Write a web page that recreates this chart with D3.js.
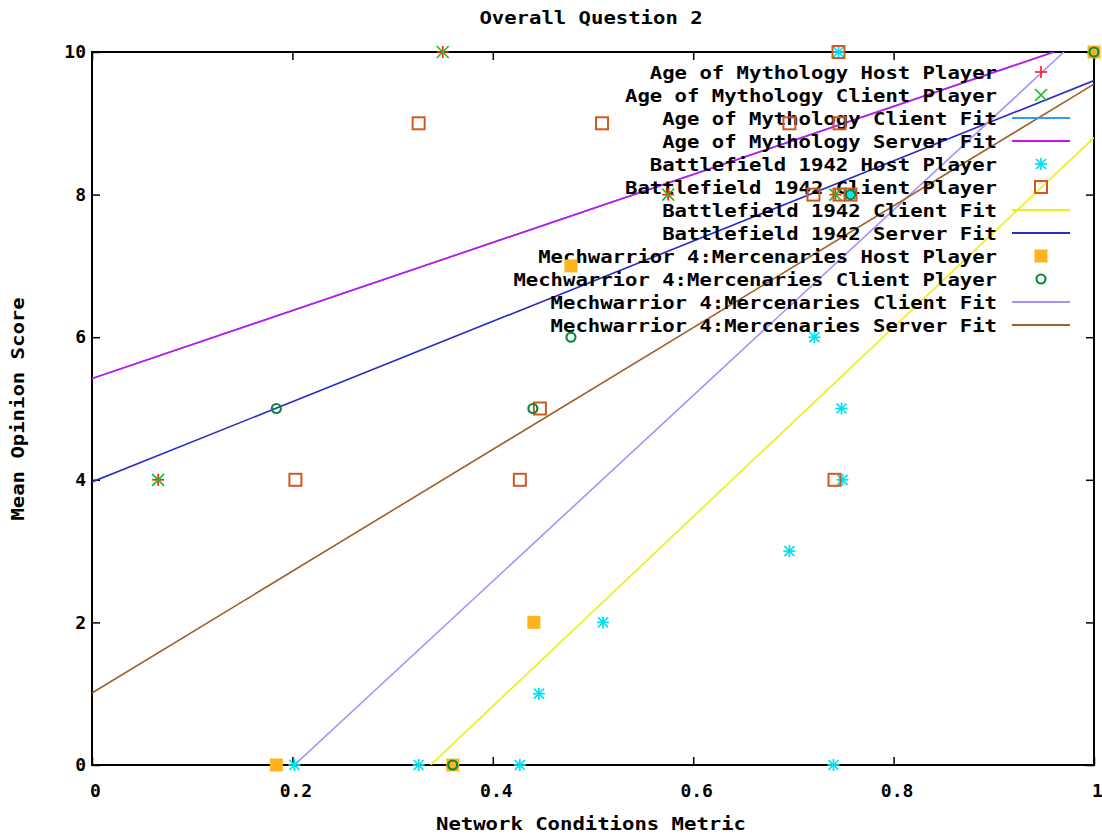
<!DOCTYPE html>
<html><head><meta charset="utf-8">
<script src="https://cdn.jsdelivr.net/npm/d3@7"></script>
<style>
body{margin:0;background:#fff;}
text{font-family:"DejaVu Sans Mono",monospace;font-weight:bold;font-size:18px;fill:#000;}
</style></head>
<body>
<svg id="chart" width="1102" height="836"></svg>
<script>
// ---- data ----
const chartTitle = "Overall Question 2";
const xAxisLabel = "Network Conditions Metric";
const yAxisLabel = "Mean Opinion Score";
const xTickValues = [0, 0.2, 0.4, 0.6, 0.8, 1];
const xTickLabels = ["0", "0.2", "0.4", "0.6", "0.8", "1"];
const yTickValues = [0, 2, 4, 6, 8, 10];
const yTickLabels = ["0", "2", "4", "6", "8", "10"];

const seriesNames = [
  "Age of Mythology Host Player",
  "Age of Mythology Client Player",
  "Age of Mythology Client Fit",
  "Age of Mythology Server Fit",
  "Battlefield 1942 Host Player",
  "Battlefield 1942 Client Player",
  "Battlefield 1942 Client Fit",
  "Battlefield 1942 Server Fit",
  "Mechwarrior 4:Mercenaries Host Player",
  "Mechwarrior 4:Mercenaries Client Player",
  "Mechwarrior 4:Mercenaries Client Fit",
  "Mechwarrior 4:Mercenaries Server Fit"
];

const aomHostX = [0.066, 0.35, 0.575, 0.742];
const aomHostY = [4, 10, 8, 8];
const aomClientX = [0.066, 0.35, 0.575, 0.742];
const aomClientY = [4, 10, 8, 8];
const aomClientFitX = [0, 0.96];
const aomClientFitY = [5.42, 10];
const aomServerFitX = [0, 0.96];
const aomServerFitY = [5.42, 10];
const bfHostX = [0.202, 0.326, 0.427, 0.446, 0.51, 0.696, 0.721, 0.748, 0.749, 0.74, 0.745, 0.757];
const bfHostY = [0, 0, 0, 1, 2, 3, 6, 5, 4, 0, 10, 8];
const bfClientX = [0.326, 0.509, 0.696, 0.746, 0.745, 0.72, 0.746, 0.757, 0.447, 0.203, 0.427, 0.741];
const bfClientY = [9, 9, 9, 9, 10, 8, 8, 8, 5, 4, 4, 4];
const bfClientFitX = [0.338, 1];
const bfClientFitY = [0, 8.8];
const bfServerFitX = [0, 1];
const bfServerFitY = [3.97, 9.6];
const mwHostX = [0.184, 0.36, 0.441, 0.478, 1];
const mwHostY = [0, 0, 2, 7, 10];
const mwClientX = [0.184, 0.44, 0.478, 0.36, 0.757, 1];
const mwClientY = [5, 5, 6, 0, 8, 10];
const mwClientFitX = [0.202, 0.97];
const mwClientFitY = [0, 10];
const mwServerFitX = [0, 1];
const mwServerFitY = [1.01, 9.55];

const seriesColors = ["#ff2020", "#20c020", "#3399ff", "#cc11ee", "#00e0ee", "#d05a1e",
                      "#eeee10", "#2a2ac4", "#ffb41e", "#0a8a3c", "#a890ff", "#a0602a"];
const seriesKinds = ["plus", "cross", "line", "line", "star", "square",
                     "line", "line", "fsquare", "circle", "line", "line"];

// ---- build ----
const xsList = [aomHostX, aomClientX, aomClientFitX, aomServerFitX, bfHostX, bfClientX,
                bfClientFitX, bfServerFitX, mwHostX, mwClientX, mwClientFitX, mwServerFitX];
const ysList = [aomHostY, aomClientY, aomClientFitY, aomServerFitY, bfHostY, bfClientY,
                bfClientFitY, bfServerFitY, mwHostY, mwClientY, mwClientFitY, mwServerFitY];
const series = seriesNames.map((name, i) => ({
  name, color: seriesColors[i], kind: seriesKinds[i],
  pts: xsList[i].map((x, j) => [x, ysList[i][j]])
}));

const svg = d3.select("#chart");
const L = 92, R = 1094, T = 52, B = 765;
const x = d3.scaleLinear().domain([0, 1]).range([L, R]);
const y = d3.scaleLinear().domain([0, 10]).range([B, T]);

svg.append("defs").append("clipPath").attr("id", "clip")
  .append("rect").attr("x", L).attr("y", T).attr("width", R - L).attr("height", B - T);

// axes
const fmtX = d => xTickLabels[xTickValues.indexOf(d)];
const fmtY = d => yTickLabels[yTickValues.indexOf(d)];
const axB = svg.append("g").attr("transform", `translate(0,${B})`)
  .call(d3.axisBottom(x).tickValues(xTickValues).tickFormat(fmtX).tickSizeInner(-8).tickSizeOuter(0).tickPadding(19));
const axT = svg.append("g").attr("transform", `translate(0,${T})`)
  .call(d3.axisTop(x).tickValues(xTickValues).tickFormat("").tickSizeInner(-8).tickSizeOuter(0));
const axLft = svg.append("g").attr("transform", `translate(${L},0)`)
  .call(d3.axisLeft(y).tickValues(yTickValues).tickFormat(fmtY).tickSizeInner(-8).tickSizeOuter(0).tickPadding(6));
const axRt = svg.append("g").attr("transform", `translate(${R},0)`)
  .call(d3.axisRight(y).tickValues(yTickValues).tickFormat("").tickSizeInner(-8).tickSizeOuter(0));
[axB, axT, axLft, axRt].forEach(a => {
  a.select(".domain").remove();
  a.selectAll(".tick line").attr("stroke", "#000").attr("stroke-width", 1.5);
  a.selectAll("text").attr("font-family", null).attr("font-size", null).style("font-weight", "bold");
});
axB.selectAll("text").attr("dy", "0.71em").attr("dx", 3);

svg.append("rect").attr("x", L).attr("y", T).attr("width", R - L).attr("height", B - T)
  .attr("fill", "none").attr("stroke", "#000").attr("stroke-width", 2);

// titles
function fitText(sel, str) {
  sel.text(str).attr("textLength", str.length * 12.4).attr("lengthAdjust", "spacingAndGlyphs");
}
fitText(svg.append("text").attr("x", 591).attr("y", 24).attr("text-anchor", "middle"), chartTitle);
fitText(svg.append("text").attr("x", 591).attr("y", 830).attr("text-anchor", "middle"), xAxisLabel);
fitText(svg.append("text").attr("transform", "translate(24,409) rotate(-90)").attr("text-anchor", "middle"), yAxisLabel);

// markers
function marker(g, kind, color, cx, cy) {
  if (kind === "plus" || kind === "star") {
    g.append("line").attr("x1", cx - 6).attr("x2", cx + 6).attr("y1", cy).attr("y2", cy).attr("stroke", color).attr("stroke-width", 1.7);
    g.append("line").attr("x1", cx).attr("x2", cx).attr("y1", cy - 6).attr("y2", cy + 6).attr("stroke", color).attr("stroke-width", 1.7);
  }
  if (kind === "cross" || kind === "star") {
    const h = kind === "star" ? 5 : 6;
    g.append("line").attr("x1", cx - h).attr("x2", cx + h).attr("y1", cy - h).attr("y2", cy + h).attr("stroke", color).attr("stroke-width", 1.7);
    g.append("line").attr("x1", cx - h).attr("x2", cx + h).attr("y1", cy + h).attr("y2", cy - h).attr("stroke", color).attr("stroke-width", 1.7);
  }
  if (kind === "square") {
    g.append("rect").attr("x", cx - 6).attr("y", cy - 6).attr("width", 12).attr("height", 12)
      .attr("fill", "none").attr("stroke", color).attr("stroke-width", 2);
  }
  if (kind === "fsquare") {
    g.append("rect").attr("x", cx - 6.5).attr("y", cy - 6.5).attr("width", 13).attr("height", 13).attr("fill", color);
  }
  if (kind === "circle") {
    g.append("circle").attr("cx", cx).attr("cy", cy).attr("r", 4.5)
      .attr("fill", "none").attr("stroke", color).attr("stroke-width", 2.2);
  }
}

const line = d3.line().x(d => x(d[0])).y(d => y(d[1]));
const plot = svg.append("g").attr("clip-path", "url(#clip)");
const legend = svg.append("g");
const legTextX = 997, legLineX1 = 1012, legLineX2 = 1070, legMarkX = 1041, legY0 = 72, legStep = 23;

series.forEach((s, i) => {
  const ly = legY0 + i * legStep;
  fitText(legend.append("text").attr("x", legTextX).attr("y", ly + 6.5).attr("text-anchor", "end"), s.name);
  if (s.kind === "line") {
    plot.append("path").datum(s.pts).attr("d", line).attr("fill", "none")
      .attr("stroke", s.color).attr("stroke-width", 1.6);
    legend.append("line").attr("x1", legLineX1).attr("x2", legLineX2).attr("y1", ly).attr("y2", ly)
      .attr("stroke", s.color).attr("stroke-width", 2);
  } else {
    const g = svg.append("g");
    s.pts.forEach(p => marker(g, s.kind, s.color, x(p[0]), y(p[1])));
    marker(legend, s.kind, s.color, legMarkX, ly);
  }
});
</script>
</body></html>
